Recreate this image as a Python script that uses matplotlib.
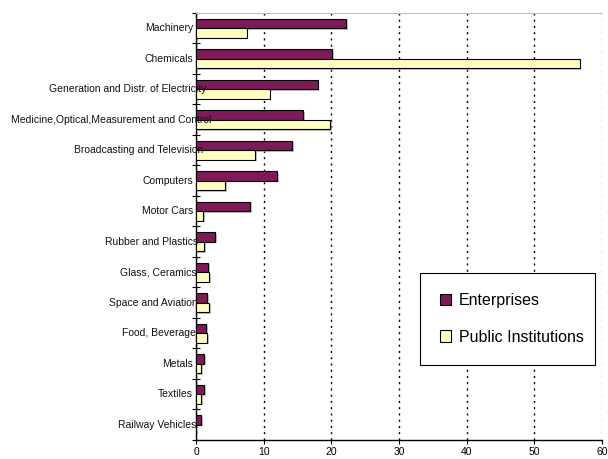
import matplotlib
matplotlib.use("Agg")
import matplotlib.pyplot as plt
import matplotlib.patheffects as pe
import matplotlib.transforms as mtrans
import numpy as np

plt.rcParams['font.family'] = ['Liberation Sans', 'DejaVu Sans']

# categories top to bottom
sectors = ['Machinery', 'Chemicals', 'Generation and Distr. of Electricity',
           'Medicine,Optical,Measurement and Control', 'Broadcasting and Television',
           'Computers', 'Motor Cars', 'Rubber and Plastics', 'Glass, Ceramics',
           'Space and Aviation', 'Food, Beverage', 'Metals', 'Textiles',
           'Railway Vehicles']
enterprises = [22.2, 20.1, 18.0, 15.8, 14.2, 12.0, 8.0, 2.8, 1.8, 1.6, 1.5, 1.2, 1.2, 0.8]
public_inst = [7.5, 56.7, 10.9, 19.8, 8.7, 4.3, 1.1, 1.2, 1.9, 1.9, 1.6, 0.8, 0.8, 0.0]
xticks = [0, 10, 20, 30, 40, 50, 60]

purple = '#7d1b58'
yellow = '#ffffc2'

fig = plt.figure(figsize=(6.08, 4.59), dpi=100)
ax = fig.add_axes([0.3224, 0.0414, 0.6676, 0.9303])

n = len(sectors)
y = np.arange(n)[::-1]  # top category at highest y
h = 0.31
shadow = [pe.SimplePatchShadow(offset=(1.2, -1.2), shadow_rgbFace='#999999', alpha=0.6), pe.Normal()]

b1 = ax.barh(y + h / 2, enterprises, height=h, color=purple, edgecolor='black', linewidth=0.8,
             label='Enterprises', zorder=3)
b2 = ax.barh(y - h / 2, public_inst, height=h, color=yellow, edgecolor='black', linewidth=0.8,
             label='Public Institutions', zorder=3)
for bar in list(b1) + list(b2):
    bar.set_path_effects(shadow)

ax.set_xlim(0, 60)
ax.set_ylim(-0.5, n - 0.5)
ax.set_xticks(xticks)
ax.set_xticklabels([str(t) for t in xticks], fontsize=7.5)
ax.tick_params(axis='x', direction='out', length=3, width=0.8, pad=2)

# category boundaries as y ticks (crossing)
ax.set_yticks(np.arange(n + 1) - 0.5)
ax.set_yticklabels([])
ax.tick_params(axis='y', direction='inout', length=6, width=0.8)

ax.xaxis.grid(True, linestyle=(0, (1.5, 3)), color='black', linewidth=1.0, zorder=0)
ax.set_axisbelow(True)
for gl, t in zip(ax.get_xgridlines(), xticks):
    if t == 60:
        gl.set_color('#888888')
ax.spines['right'].set_visible(False)
ax.spines['top'].set_color('#c0c0c0')
ax.spines['left'].set_linewidth(1.0)
ax.spines['bottom'].set_linewidth(1.0)

# category labels, right aligned next to the axis; longer ones spill over a bit
trans = mtrans.blended_transform_factory(ax.transAxes, ax.transData)
labels = []
for name, yy in zip(sectors, y):
    t = ax.text(0, yy, name, ha='right', va='center', fontsize=7.5, color='#111111',
                transform=mtrans.offset_copy(trans, fig=fig, x=-3, y=0, units='dots'))
    labels.append(t)
fig.canvas.draw()
r = fig.canvas.get_renderer()
for t, yy in zip(labels, y):
    w = t.get_window_extent(r).width
    shift = max(0.0, 0.12 * (w - 47)) - 3
    t.set_transform(mtrans.offset_copy(trans, fig=fig, x=shift, y=0, units='dots'))

leg = ax.legend(loc='upper left', bbox_to_anchor=(0.552, 0.173, 0.431, 0.218), mode='expand',
                fontsize=11.5, frameon=True, fancybox=False, edgecolor='black', framealpha=1,
                handlelength=0.7, handleheight=0.7, handletextpad=0.5, labelspacing=1.35,
                borderpad=1.25, borderaxespad=0)
leg.get_frame().set_linewidth(0.8)
for hnd in leg.legend_handles:
    hnd.set_path_effects([])

fig.savefig('out.png', dpi=100)
